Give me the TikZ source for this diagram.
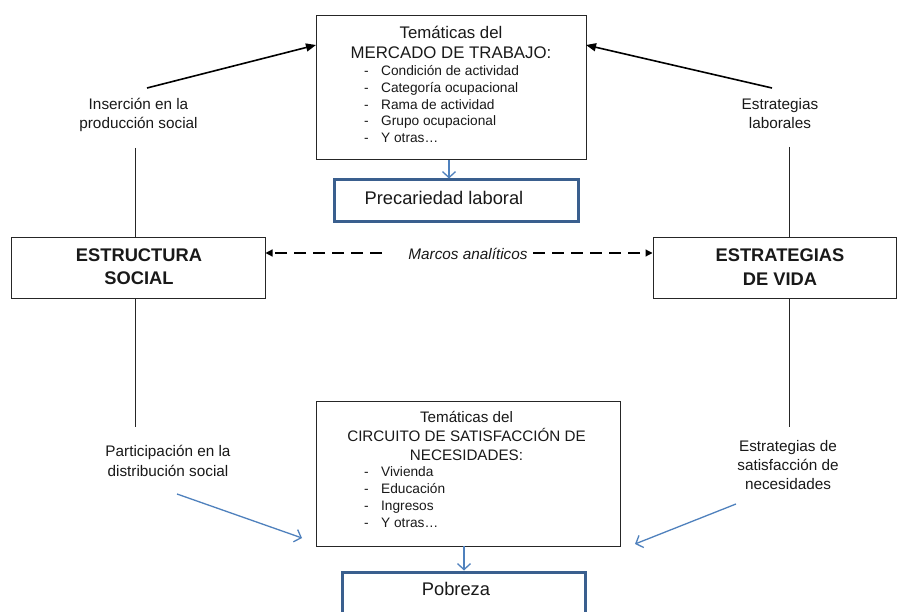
\documentclass[tikz,border=0pt]{standalone}
\usepackage{fontspec}
\setmainfont{Liberation Sans}
\usetikzlibrary{arrows.meta}
\definecolor{wordblue}{HTML}{4F81BD}
\definecolor{boxblue}{HTML}{3A5F8E}
\newcommand\fsz[2]{\fontsize{#1}{#2}\selectfont}
\setlength{\tabcolsep}{0pt}
\tikzset{
  plainbox/.style={draw=black!85, line width=1pt, inner sep=0pt},
  bluebox/.style={draw=boxblue, line width=3pt, inner sep=0pt},
  txt/.style={inner sep=0pt, anchor=base, text=black!90},
  listtxt/.style={inner sep=0pt, anchor=base west, text=black!90},
  blackarrow/.style={draw=black, line width=1.6pt, -{Triangle[length=10pt,width=8pt]}},
  bluearrow/.style={draw=wordblue, line width=1.3pt, -{Straight Barb[length=6pt,width=13pt]}},
  dasharrow/.style={draw=black, line width=1.2pt, dash pattern=on 12pt off 7pt, -{Triangle[length=7pt,width=7pt]}},
  plainline/.style={draw=black!85, line width=1pt},
}
\begin{document}
\begin{tikzpicture}[x=1pt,y=-1pt]
\useasboundingbox (0,0) rectangle (897,612);
\fill[white] (0,0) rectangle (897,612);

% boxes
\node[plainbox, minimum width=270pt, minimum height=144pt] (mt) at (451,88) {};
\node[bluebox, minimum width=244pt, minimum height=42pt] (pl) at (456,201) {};
\node[plainbox, minimum width=254pt, minimum height=61pt] (es) at (138,268.5) {};
\node[plainbox, minimum width=243pt, minimum height=61pt] (ev) at (774.5,268.5) {};
\node[plainbox, minimum width=304pt, minimum height=145pt] (cs) at (468,473.5) {};
\node[bluebox, minimum width=243pt, minimum height=52pt] (po) at (463.5,598) {};

% texts inside boxes
\node[txt] (mth) at (451,39) {\fsz{16.8}{20}\begin{tabular}[t]{c}Temáticas del\\MERCADO DE TRABAJO:\end{tabular}};
\node[listtxt] (mtl) at (364,76) {\fsz{13.7}{16.6}\begin{tabular}[t]{l@{\hspace{12.4pt}}l}-&Condición de actividad\\-&Categoría ocupacional\\-&Rama de actividad\\-&Grupo ocupacional\\-&Y otras…\end{tabular}};
\node[txt] (plt) at (444,205) {\fsz{18.3}{22}Precariedad laboral};
\node[txt] (est) at (139,261.7) {\fsz{18.3}{23.3}\bfseries\begin{tabular}[t]{c}ESTRUCTURA\\SOCIAL\end{tabular}};
\node[txt] (evt) at (780,262) {\fsz{18.3}{23.3}\bfseries\begin{tabular}[t]{c}ESTRATEGIAS\\DE VIDA\end{tabular}};
\node[txt] (csh) at (466.5,422.7) {\fsz{15.2}{19}\begin{tabular}[t]{c}Temáticas del\\CIRCUITO DE SATISFACCIÓN DE\\NECESIDADES:\end{tabular}};
\node[listtxt] (csl) at (364,476.7) {\fsz{13.7}{16.8}\begin{tabular}[t]{l@{\hspace{12.4pt}}l}-&Vivienda\\-&Educación\\-&Ingresos\\-&Y otras…\end{tabular}};
\node[txt] (pot) at (456,595.7) {\fsz{18.3}{22}Pobreza};

% labels
\node[txt] (ins) at (138.5,110) {\fsz{15.3}{19}\begin{tabular}[t]{c}Inserción en la\\producción social\end{tabular}};
\node[txt] (lab) at (780,110) {\fsz{15.3}{18.5}\begin{tabular}[t]{c}Estrategias\\laborales\end{tabular}};
\node[txt] (par) at (168,456.7) {\fsz{15.3}{19.3}\begin{tabular}[t]{c}Participación en la\\distribución social\end{tabular}};
\node[txt] (sat) at (788,451.7) {\fsz{15.3}{18.7}\begin{tabular}[t]{c}Estrategias de\\satisfacción de\\necesidades\end{tabular}};
\node[txt] (mar) at (468,260) {\fsz{15.3}{18}\itshape Marcos analíticos};

% connector end points
\coordinate (insA) at (147,88);
\coordinate (mtL) at (316,45);
\coordinate (labA) at (772,88);
\coordinate (mtR) at (586,45);
\coordinate (insB) at (135,148);
\coordinate (labB) at (789,147);
\coordinate (esB) at (135,427);
\coordinate (evB) at (789,427);
\coordinate (parA) at (177,494);
\coordinate (parB) at (302,538);
\coordinate (satA) at (736,504);
\coordinate (satB) at (635,544);
\coordinate (mtA) at (449,160);
\coordinate (csA) at (464,546);
\coordinate (marL) at (382,253);
\coordinate (marR) at (533,253);

% connectors
\draw[blackarrow] (insA) -- (mtL);
\draw[blackarrow] (labA) -- (mtR);
\draw[plainline] (insB) -- (insB |- es.north);
\draw[plainline] (labB) -- (labB |- ev.north);
\draw[plainline] (esB |- es.south) -- (esB);
\draw[plainline] (evB |- ev.south) -- (evB);
\draw[bluearrow] (mtA) -- (mtA |- pl.north);
\draw[bluearrow] (csA) -- (csA |- po.north);
\draw[bluearrow] (parA) -- (parB);
\draw[bluearrow] (satA) -- (satB);
\draw[dasharrow] (marL) -- (marL -| es.east);
\draw[dasharrow] (marR) -- (marR -| ev.west);
\end{tikzpicture}
\end{document}
